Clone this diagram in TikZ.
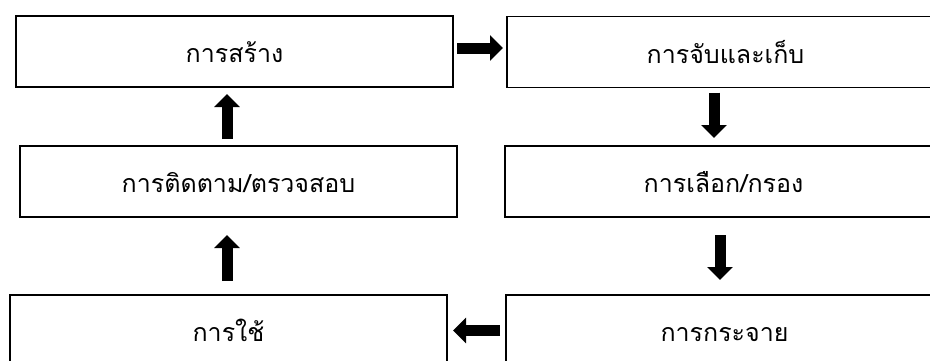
\documentclass[tikz,border=0pt]{standalone}
\usepackage{fontspec}
\newfontfamily\thaifont[Script=Thai]{Loma}
\usetikzlibrary{arrows.meta}
\tikzset{
  stage/.style={draw=black, line width=1.6pt, fill=white, minimum width=437pt, minimum height=71pt, inner sep=0pt, outer sep=0pt, text height=22pt, text depth=0pt, font=\thaifont\fontsize{25}{30}\selectfont},
  blockarrow/.style={line width=11pt, -{Triangle[width=25pt,length=13pt]}}
}
\begin{document}
\begin{tikzpicture}[x=1pt,y=-1pt]
\useasboundingbox (0,0) rectangle (930,360);
\clip (0,0) rectangle (930,360);
\node[stage] (create) at (234.5,51.5) {การสร้าง};
\node[stage] (collect) at (725.5,52) {การจับและเก็บ};
\node[stage] (monitor) at (238.5,181.5) {การติดตาม/ตรวจสอบ};
\node[stage] (select) at (723.5,181.5) {การเลือก/กรอง};
\node[stage] (use) at (228.5,330.5) {การใช้};
\node[stage] (distribute) at (724.5,330.5) {การกระจาย};
% connectors
\draw[blockarrow] ([xshift=4pt,yshift=3.5pt]create.east) -- ([xshift=-4pt,yshift=3.5pt]collect.west |- create.east);
\draw[blockarrow] ([xshift=-11.5pt,yshift=-5pt]collect.south) -- ([xshift=-11.5pt,yshift=8pt]collect.south |- select.north);
\draw[blockarrow] ([xshift=-3.5pt,yshift=-18pt]select.south) -- ([xshift=-3.5pt,yshift=15pt]select.south |- distribute.north);
\draw[blockarrow] ([xshift=-6pt]distribute.west) -- ([xshift=6pt]use.east |- distribute.west);
\draw[blockarrow] ([xshift=-1.5pt,yshift=14pt]use.north) -- ([xshift=-1.5pt,yshift=-18pt]use.north |- monitor.south);
\draw[blockarrow] ([xshift=-11.5pt,yshift=7pt]monitor.north) -- ([xshift=-11.5pt,yshift=-7pt]monitor.north |- create.south);
\end{tikzpicture}
\end{document}
